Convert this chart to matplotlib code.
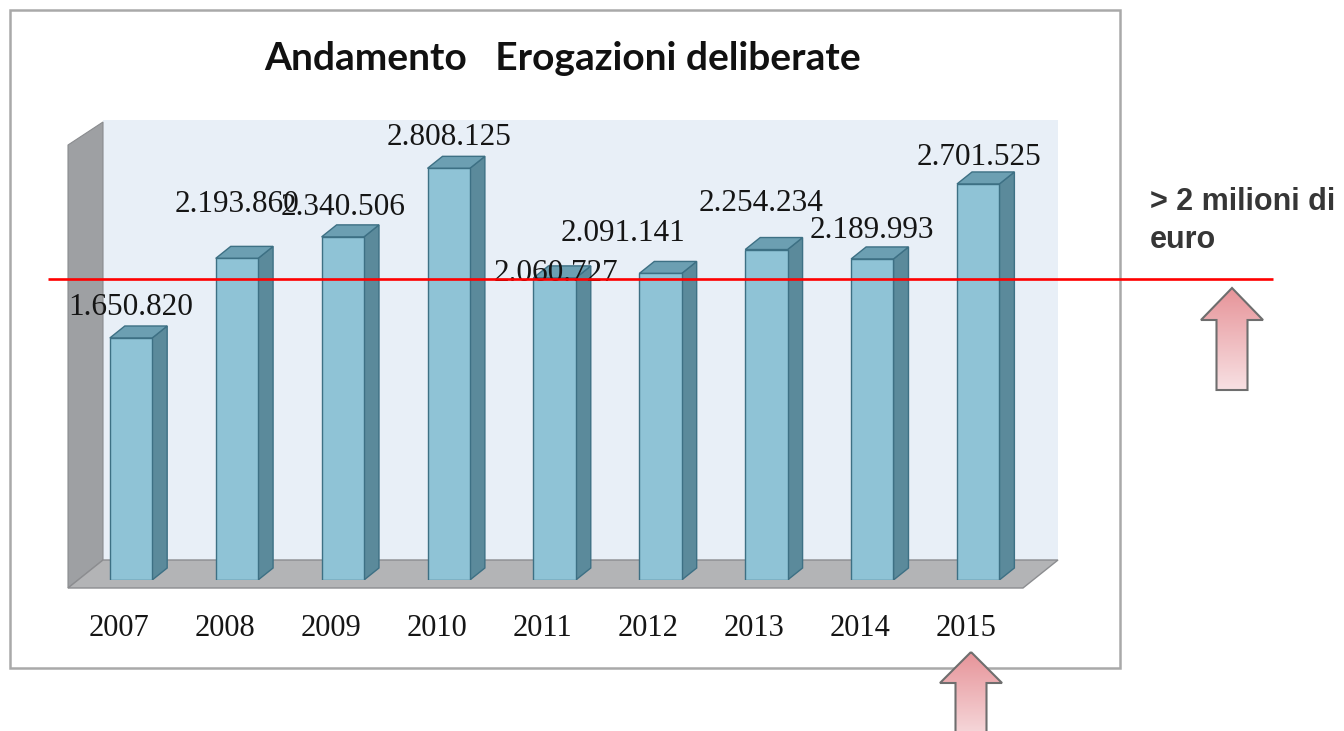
import matplotlib
matplotlib.use("Agg")
import matplotlib.pyplot as plt
import numpy as np
from matplotlib.patches import Polygon, Rectangle
from matplotlib.transforms import IdentityTransform

# ---------------- data ----------------
years = ["2007", "2008", "2009", "2010", "2011", "2012", "2013", "2014", "2015"]
values = [1650820, 2193860, 2340506, 2808125, 2060727, 2091141, 2254234, 2189993, 2701525]
value_labels = ["1.650.820", "2.193.860", "2.340.506", "2.808.125", "2.060.727",
                "2.091.141", "2.254.234", "2.189.993", "2.701.525"]
title = "Andamento   Erogazioni deliberate"
note_lines = ["> 2 milioni di", "euro"]

# label placement (pixel offsets from the top-front centre of each bar)
label_dx = [0, 0, 0, 0, 1, -37, -5, 0, 1]
label_dy = [30, 54, 29, 31, 4, 40, 46, 28, 26]

# ---------------- style ----------------
W, H = 1344, 731
FRONT = "#8fc3d6"
SIDE = "#5b8a9b"
TOP = "#6c9fb2"
EDGE = "#3d7084"
DEPTH_X, DEPTH_Y = 15, 12

fig = plt.figure(figsize=(W / 100, H / 100), dpi=100)

# background axes in pixel coordinates (y downwards)
bg = fig.add_axes([0, 0, 1, 1], zorder=0)
bg.set_xlim(0, W)
bg.set_ylim(H, 0)
bg.axis("off")

# frame
bg.add_patch(Rectangle((10, 10), 1110, 658, facecolor="white", edgecolor="#a9a9a9", lw=1.8))
# back wall
bg.add_patch(Rectangle((103, 120), 955, 440, facecolor="#e8eff7", edgecolor="none"))
# left wall
bg.add_patch(Polygon([(68, 145), (103, 122), (103, 560), (68, 588)], closed=True,
                     facecolor="#9ea0a3", edgecolor="#8a8c8f", lw=0.8))
# floor
bg.add_patch(Polygon([(68, 588), (103, 560), (1058, 560), (1023, 588)], closed=True,
                     facecolor="#b3b4b6", edgecolor="#8c8d90", lw=1.0))

bg.text(563, 58, title, ha="center", va="center", fontsize=28,
        fontfamily="Lato", fontweight="bold", color="#111111")

# data axes
x = np.arange(len(values))
spacing = 105.9
x0_px = 131 - 0.5 * spacing
ax_w = spacing * len(values)
y0_px = 580
px_per_unit = 146.6 / 1e6
ymax = 3.0e6
ax = fig.add_axes([x0_px / W, (H - y0_px) / H, ax_w / W, ymax * px_per_unit / H], zorder=1)
ax.set_xlim(-0.5, len(values) - 0.5)
ax.set_ylim(0, ymax)
ax.axis("off")
ax.patch.set_alpha(0)

bar_w = 0.40
bars = ax.bar(x, values, width=bar_w, color=FRONT, edgecolor=EDGE, linewidth=1.0, zorder=3)

fig.canvas.draw()
for xi, v in zip(x, values):
    (fx0, fy0) = ax.transData.transform((xi - bar_w / 2, 0))
    (fx1, fy1) = ax.transData.transform((xi + bar_w / 2, v))
    top = [(fx0, fy1), (fx1, fy1), (fx1 + DEPTH_X, fy1 + DEPTH_Y), (fx0 + DEPTH_X, fy1 + DEPTH_Y)]
    side = [(fx1, fy0), (fx1, fy1), (fx1 + DEPTH_X, fy1 + DEPTH_Y), (fx1 + DEPTH_X, fy0 + DEPTH_Y)]
    ax.add_patch(Polygon(side, closed=True, facecolor=SIDE, edgecolor=EDGE, lw=1.0,
                         transform=IdentityTransform(), zorder=2))
    ax.add_patch(Polygon(top, closed=True, facecolor=TOP, edgecolor=EDGE, lw=1.0,
                         transform=IdentityTransform(), zorder=2))

# value labels
for xi, v, lab, dx, dy in zip(x, values, value_labels, label_dx, label_dy):
    ax.annotate(lab, (xi, v), xytext=(dx * 0.72, dy * 0.72), textcoords="offset points",
                ha="center", va="center", fontsize=22.5, fontfamily="Liberation Serif",
                color="#151515", zorder=5)

# year labels
for xi, yr in zip(x, years):
    ax.annotate(yr, (xi, 0), xytext=(-12 * 0.72, -48 * 0.72), textcoords="offset points",
                ha="center", va="center", fontsize=22, fontfamily="Liberation Serif",
                color="#151515", annotation_clip=False)

# overlay axes (pixel coords) for the threshold line, arrows, note
ov = fig.add_axes([0, 0, 1, 1], zorder=2)
ov.set_xlim(0, W)
ov.set_ylim(H, 0)
ov.axis("off")
ov.patch.set_alpha(0)

ov.plot([48, 1273], [279, 279], color="#ff0000", lw=1.9, solid_capstyle="butt")

ov.text(1150, 202, note_lines[0], ha="left", va="center", fontsize=22,
        fontfamily="Liberation Sans", fontweight="bold", color="#363636")
ov.text(1150, 240, note_lines[1], ha="left", va="center", fontsize=22,
        fontfamily="Liberation Sans", fontweight="bold", color="#363636")

grad = np.linspace(0, 1, 256)[:, None]
c_top = np.array([0.905, 0.58, 0.60])
c_bot = np.array([0.97, 0.88, 0.89])
img = (c_top[None, None, :] * (1 - grad[:, :, None]) + c_bot[None, None, :] * grad[:, :, None])


def up_arrow(cx, tip_y, head_y, head_half, shaft_half, bottom_y):
    pts = [(cx, tip_y), (cx + head_half, head_y), (cx + shaft_half, head_y),
           (cx + shaft_half, bottom_y), (cx - shaft_half, bottom_y),
           (cx - shaft_half, head_y), (cx - head_half, head_y)]
    poly = Polygon(pts, closed=True, facecolor="none", edgecolor="#6e6e6e", lw=1.5, zorder=4)
    ov.add_patch(poly)
    im = ov.imshow(img, extent=(cx - head_half, cx + head_half, bottom_y, tip_y),
                   origin="upper", aspect="auto", zorder=3)
    im.set_clip_path(poly)


up_arrow(1232, 288, 320, 31, 15.5, 390)
up_arrow(971, 652, 683, 31, 15.5, 745)
ov.set_xlim(0, W)
ov.set_ylim(H, 0)

fig.savefig("out.png", dpi=100)
